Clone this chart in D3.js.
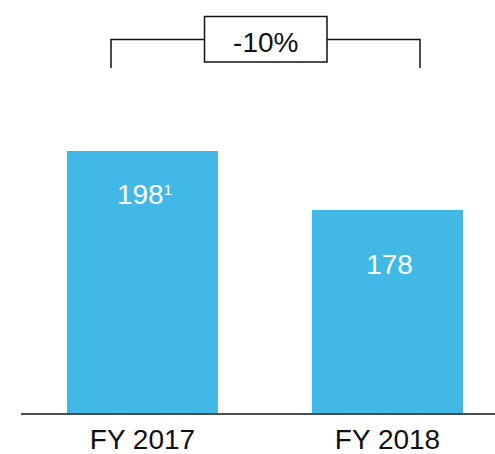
<!DOCTYPE html>
<html>
<head>
<meta charset="utf-8">
<script src="https://cdn.jsdelivr.net/npm/d3@7"></script>
<style>
  body { margin: 0; background: #fff; }
  svg { display: block; font-family: "Liberation Sans", Arial, sans-serif; }
</style>
</head>
<body>
<svg></svg>
<script>
var categories = ["FY 2017", "FY 2018"];
var values = [198, 178];
var footnotes = ["1", ""];
var changeLabel = "-10%";

var screen = { width: 495, height: 454 };
var baseY = 413;

var svg = d3.select("svg")
            .attr("width", screen.width)
            .attr("height", screen.height);

var xScale = d3.scaleBand()
               .domain(categories)
               .range([67, 463])
               .paddingInner(0.384)
               .paddingOuter(0);

var yScale = d3.scaleLinear()
               .domain([109, 198])
               .range([baseY, 151]);

// bars
svg.selectAll("rect.bar")
   .data(values)
   .enter()
   .append("rect")
   .attr("class", "bar")
   .attr("x", function(d, i){ return xScale(categories[i]); })
   .attr("y", function(d){ return yScale(d); })
   .attr("width", xScale.bandwidth())
   .attr("height", function(d){ return baseY - yScale(d); })
   .attr("fill", "#41b8e5");

// value labels
var labelDy = [53, 64];
var labels = svg.selectAll("text.val")
   .data(values)
   .enter()
   .append("text")
   .attr("class", "val")
   .attr("x", function(d, i){ return xScale(categories[i]) + xScale.bandwidth() / 2 + 2; })
   .attr("y", function(d, i){ return yScale(d) + labelDy[i]; })
   .attr("text-anchor", "middle")
   .attr("fill", "#fff")
   .attr("font-size", 28);
labels.append("tspan").text(function(d){ return d; });
labels.append("tspan")
      .attr("font-size", 15)
      .attr("dy", -9)
      .text(function(d, i){ return footnotes[i]; });

// baseline axis
var xAxis = d3.axisBottom(xScale).tickSize(0).tickPadding(15);
var gx = svg.append("g")
   .attr("transform", "translate(0," + (baseY + 1) + ")")
   .call(xAxis);
gx.select(".domain").remove();
gx.selectAll("text")
  .attr("font-family", "Liberation Sans, Arial, sans-serif")
  .attr("font-size", 28)
  .attr("fill", "#111");
svg.append("line")
   .attr("x1", 21).attr("x2", 495)
   .attr("y1", baseY + 1).attr("y2", baseY + 1)
   .attr("stroke", "#111")
   .attr("stroke-width", 1.5);

// change bracket
var bx1 = 111, bx2 = 420, by = 39.5, bBottom = 68;
var boxL = 204.5, boxR = 327, boxT = 16.5, boxB = 62;
svg.append("path")
   .attr("d", "M" + bx1 + "," + bBottom + "V" + by + "H" + boxL)
   .attr("fill", "none").attr("stroke", "#111").attr("stroke-width", 1.5);
svg.append("path")
   .attr("d", "M" + boxR + "," + by + "H" + bx2 + "V" + bBottom)
   .attr("fill", "none").attr("stroke", "#111").attr("stroke-width", 1.5);
svg.append("rect")
   .attr("x", boxL).attr("y", boxT)
   .attr("width", boxR - boxL).attr("height", boxB - boxT)
   .attr("fill", "#fff").attr("stroke", "#111").attr("stroke-width", 1.5);
svg.append("text")
   .attr("x", (boxL + boxR) / 2)
   .attr("y", 52)
   .attr("text-anchor", "middle")
   .attr("font-size", 28)
   .attr("fill", "#111")
   .text(changeLabel);
</script>
</body>
</html>
